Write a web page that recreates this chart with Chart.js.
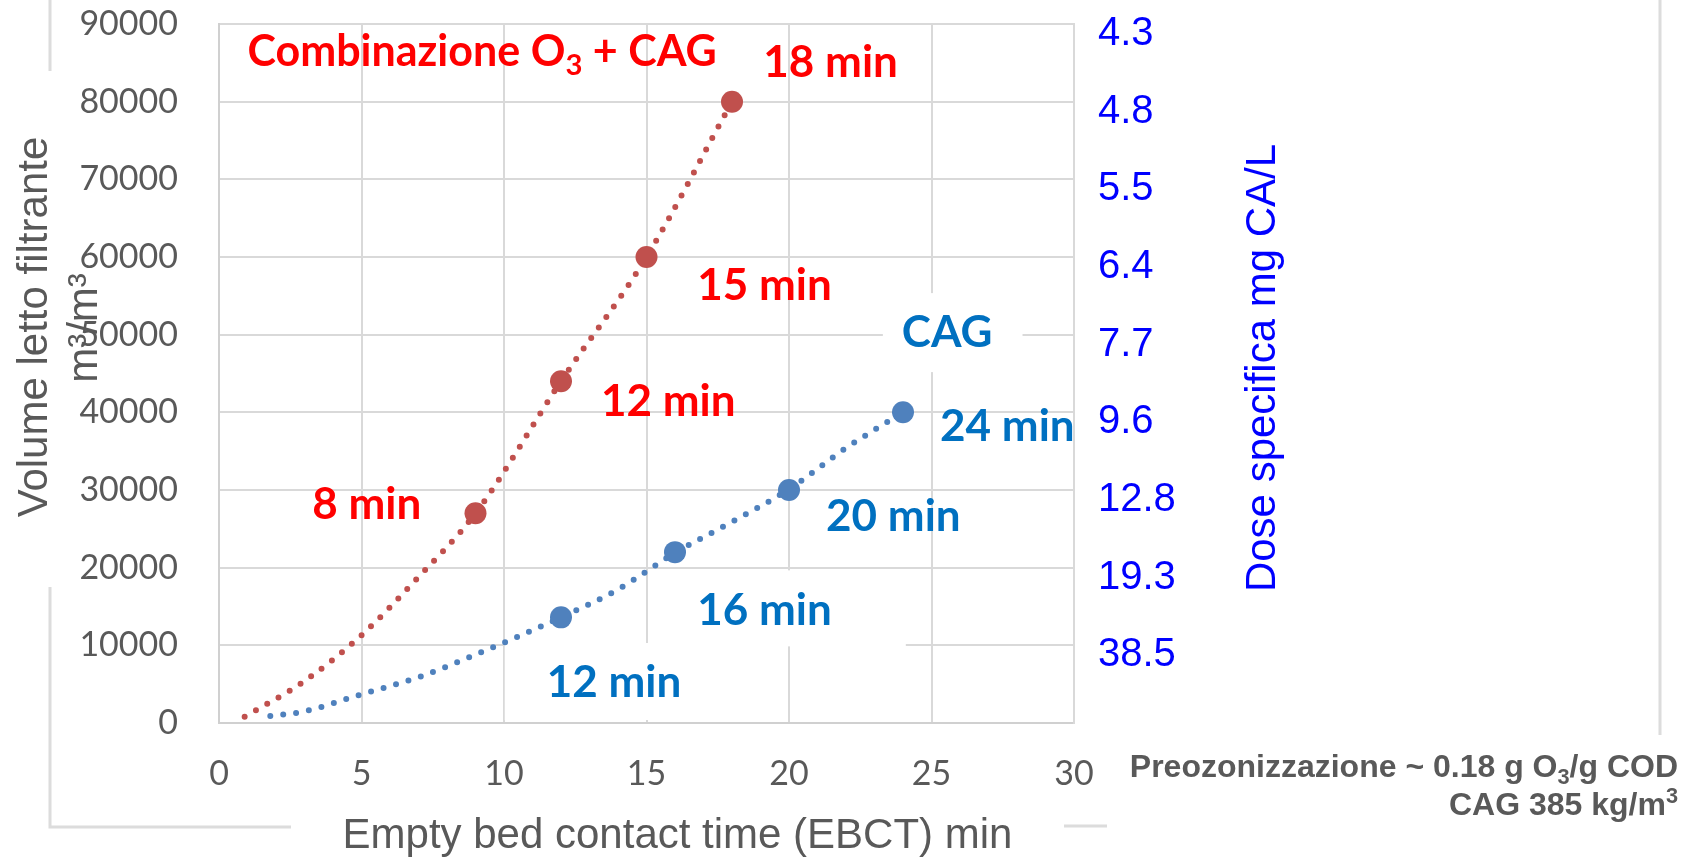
<!DOCTYPE html>
<html>
<head>
<meta charset="utf-8">
<title>Volume letto filtrante vs EBCT</title>
<script src="https://cdn.jsdelivr.net/npm/chart.js@4.4.0/dist/chart.umd.min.js"></script>
<style>
  html, body { margin: 0; padding: 0; background: #fff; }
  #wrap { position: relative; width: 1692px; height: 858px; }
</style>
</head>
<body>
<div id="wrap"><canvas id="chart"></canvas></div>
<script>
// measured points: EBCT (min) vs volume letto filtrante (m3/m3)
const comboEbct = [9, 12, 15, 18];
const comboVolume = [27000, 44000, 60000, 80000];
const cagEbct = [12, 16, 20, 24];
const cagVolume = [13600, 22000, 30000, 40000];

// dotted trend lines
const comboTrendX = [0.9, 3, 5, 7, 9, 12, 15, 18];
const comboTrendY = [800, 5400, 11300, 18800, 27000, 44000, 60000, 80000];
const cagTrendX = [1.8, 3, 5, 7, 9, 12, 14, 16, 18, 20, 22, 24];
const cagTrendY = [900, 1500, 3700, 5900, 8800, 13600, 17200, 21900, 25900, 30100, 35400, 40000];

// axis ticks
const xTicks = [0, 5, 10, 15, 20, 25, 30];
const doseLabels = ['', '38.5', '19.3', '12.8', '9.6', '7.7', '6.4', '5.5', '4.8', '4.3'];

const RED = '#FF0000';
const BLUE = '#0070C0';
const GREY = '#595959';

// labels placed in data units (x = EBCT, y = volume); pad = white box [l, r, t, b]
const notes = [
  { parts: [['Combinazione O'], ['3', 'sub'], [' + CAG']], x: 1.0, y: 86400, color: RED, size: 43 },
  { parts: [['18 min']], x: 19.1, y: 85000, color: RED },
  { parts: [['15 min']], x: 16.78, y: 56300, color: RED },
  { parts: [['12 min']], x: 13.4, y: 41300, color: RED },
  { parts: [['8 min']], x: 3.27, y: 28100, color: RED },
  { parts: [['CAG']], x: 23.96, y: 50200, color: BLUE, pad: [19, 30, 40, 39] },
  { parts: [['24 min']], x: 25.3, y: 38200, color: BLUE },
  { parts: [['20 min']], x: 21.3, y: 26600, color: BLUE },
  { parts: [['16 min']], x: 16.78, y: 14500, color: BLUE, pad: [7, 74, 40, 36] },
  { parts: [['12 min']], x: 11.5, y: 5150, color: BLUE, pad: [42, 21, 40, 37] }
];

const NOTE_FONT = 'Lato, "Open Sans", sans-serif';
const NOTE_SIZE = 44;

function xy(xs, ys) {
  return xs.map((x, i) => ({ x: x, y: ys[i] }));
}

function richWidth(ctx, parts, size, weight, family) {
  let w = 0;
  parts.forEach(p => {
    const s = p[1] ? size * 0.68 : size;
    ctx.font = weight + ' ' + s + 'px ' + family;
    w += ctx.measureText(p[0]).width;
  });
  return w;
}

// text with simple sub/superscript pieces, baseline 'middle'
function drawRich(ctx, parts, x, y, size, weight, family, color, align) {
  const w = richWidth(ctx, parts, size, weight, family);
  let cx = align === 'right' ? x - w : x;
  ctx.fillStyle = color;
  ctx.textBaseline = 'middle';
  ctx.textAlign = 'left';
  parts.forEach(p => {
    let s = size, dy = 0;
    if (p[1] === 'sub') { s = size * 0.68; dy = size * 0.32; }
    if (p[1] === 'sup') { s = size * 0.68; dy = -size * 0.28; }
    ctx.font = weight + ' ' + s + 'px ' + family;
    ctx.fillText(p[0], cx, y + dy);
    cx += ctx.measureText(p[0]).width;
  });
  return w;
}

function rotatedText(ctx, text, x, y, font, color) {
  ctx.save();
  ctx.translate(x, y);
  ctx.rotate(-Math.PI / 2);
  ctx.font = font;
  ctx.fillStyle = color;
  ctx.textAlign = 'center';
  ctx.textBaseline = 'alphabetic';
  ctx.fillText(text, 0, 0);
  ctx.restore();
}

const decorPlugin = {
  id: 'decor',
  beforeDraw(chart) {
    // remains of the outer frame of the pasted chart
    const ctx = chart.ctx;
    ctx.save();
    ctx.strokeStyle = '#dcdcdc';
    ctx.lineWidth = 3;
    ctx.beginPath();
    ctx.moveTo(50, 0); ctx.lineTo(50, 71);
    ctx.moveTo(50, 587); ctx.lineTo(50, 827); ctx.lineTo(291, 827);
    ctx.moveTo(1064, 826); ctx.lineTo(1107, 826);
    ctx.moveTo(1660, 0); ctx.lineTo(1660, 735);
    ctx.stroke();
    ctx.restore();
  },
  beforeDatasetsDraw(chart) {
    const ctx = chart.ctx;
    const sx = chart.scales.x, sy = chart.scales.y;
    ctx.save();
    ctx.fillStyle = '#ffffff';
    notes.forEach(n => {
      if (!n.pad) return;
      const px = sx.getPixelForValue(n.x), py = sy.getPixelForValue(n.y);
      const w = richWidth(ctx, n.parts, n.size || NOTE_SIZE, 'bold', NOTE_FONT);
      ctx.fillRect(px - n.pad[0], py - n.pad[2], w + n.pad[0] + n.pad[1], n.pad[2] + n.pad[3]);
    });
    ctx.restore();
  },
  afterDatasetsDraw(chart) {
    const ctx = chart.ctx;
    const sx = chart.scales.x, sy = chart.scales.y;
    ctx.save();
    notes.forEach(n => {
      drawRich(ctx, n.parts, sx.getPixelForValue(n.x), sy.getPixelForValue(n.y), n.size || NOTE_SIZE, 'bold', NOTE_FONT, n.color, 'left');
    });
    ctx.restore();
  },
  afterDraw(chart) {
    const ctx = chart.ctx;
    const area = chart.chartArea;
    const TITLE = '42px "Liberation Sans", Arial, sans-serif';
    ctx.save();
    rotatedText(ctx, 'Volume letto filtrante', 47, 327, TITLE, GREY);
    rotatedText(ctx, 'm\u00b3/m\u00b3', 97, 328, TITLE, GREY);
    rotatedText(ctx, 'Dose specifica mg CA/L', 1275, 368, TITLE, '#0000FF');

    ctx.font = TITLE;
    ctx.fillStyle = GREY;
    ctx.textAlign = 'center';
    ctx.textBaseline = 'alphabetic';
    ctx.fillText('Empty bed contact time (EBCT) min', (area.left + area.right) / 2 + 31, 848);

    const fam = '"Liberation Sans", Arial, sans-serif';
    drawRich(ctx, [['Preozonizzazione ~ 0.18 g O'], ['3', 'sub'], ['/g COD']], 1678, 768, 32, 'bold', fam, GREY, 'right');
    drawRich(ctx, [['CAG 385 kg/m'], ['3', 'sup']], 1678, 806, 32, 'bold', fam, GREY, 'right');
    ctx.restore();
  }
};

const tickFont = { family: NOTE_FONT, size: 34 };

function noPad(s) {
  s.paddingTop = 0;
  s.paddingBottom = 0;
  s.paddingLeft = 0;
  s.paddingRight = 0;
}

new Chart(document.getElementById('chart'), {
  type: 'line',
  data: {
    datasets: [
      {
        label: 'Combinazione O3 + CAG',
        data: xy(comboEbct, comboVolume),
        showLine: false,
        pointRadius: 11,
        pointBorderWidth: 0,
        pointBackgroundColor: '#C0504D'
      },
      {
        label: 'CAG',
        data: xy(cagEbct, cagVolume),
        showLine: false,
        pointRadius: 11,
        pointBorderWidth: 0,
        pointBackgroundColor: '#4F81BD'
      },
      {
        label: 'Tendenza O3 + CAG',
        data: xy(comboTrendX, comboTrendY),
        borderColor: '#C0504D',
        borderWidth: 6,
        borderDash: [0, 13],
        borderCapStyle: 'round',
        cubicInterpolationMode: 'monotone',
        pointRadius: 0,
        fill: false
      },
      {
        label: 'Tendenza CAG',
        data: xy(cagTrendX, cagTrendY),
        borderColor: '#4F81BD',
        borderWidth: 6,
        borderDash: [0, 13],
        borderCapStyle: 'round',
        cubicInterpolationMode: 'monotone',
        pointRadius: 0,
        fill: false
      }
    ]
  },
  options: {
    responsive: true,
    maintainAspectRatio: false,
    animation: false,
    layout: { padding: { top: 24, left: 0, right: 0, bottom: 0 } },
    plugins: {
      legend: { display: false },
      tooltip: { enabled: false }
    },
    scales: {
      x: {
        type: 'linear',
        min: 0,
        max: 30,
        afterFit: s => { s.height = 135; noPad(s); },
        afterBuildTicks: s => { s.ticks = xTicks.map(v => ({ value: v })); },
        grid: { color: '#d9d9d9', lineWidth: 2, drawTicks: false },
        border: { color: '#d0d0d0', width: 2 },
        ticks: { color: GREY, font: tickFont, padding: 31, maxRotation: 0 }
      },
      y: {
        type: 'linear',
        position: 'left',
        min: 0,
        max: 90000,
        afterFit: s => { s.width = 219; noPad(s); },
        grid: { color: '#d9d9d9', lineWidth: 2, drawTicks: false },
        border: { color: '#d0d0d0', width: 2 },
        ticks: {
          stepSize: 10000,
          color: GREY,
          font: tickFont,
          padding: 41,
          callback: v => String(v)
        }
      },
      y1: {
        type: 'linear',
        position: 'right',
        min: 0,
        max: 90000,
        afterFit: s => { s.width = 618; noPad(s); },
        grid: { drawOnChartArea: false, drawTicks: false },
        border: { color: '#d9d9d9', width: 2 },
        ticks: {
          stepSize: 10000,
          color: '#0000FF',
          font: { family: '"Liberation Sans", Arial, sans-serif', size: 40 },
          padding: 24,
          labelOffset: 10,
          callback: v => doseLabels[Math.round(v / 10000)]
        }
      }
    }
  },
  plugins: [decorPlugin]
});
</script>
</body>
</html>
